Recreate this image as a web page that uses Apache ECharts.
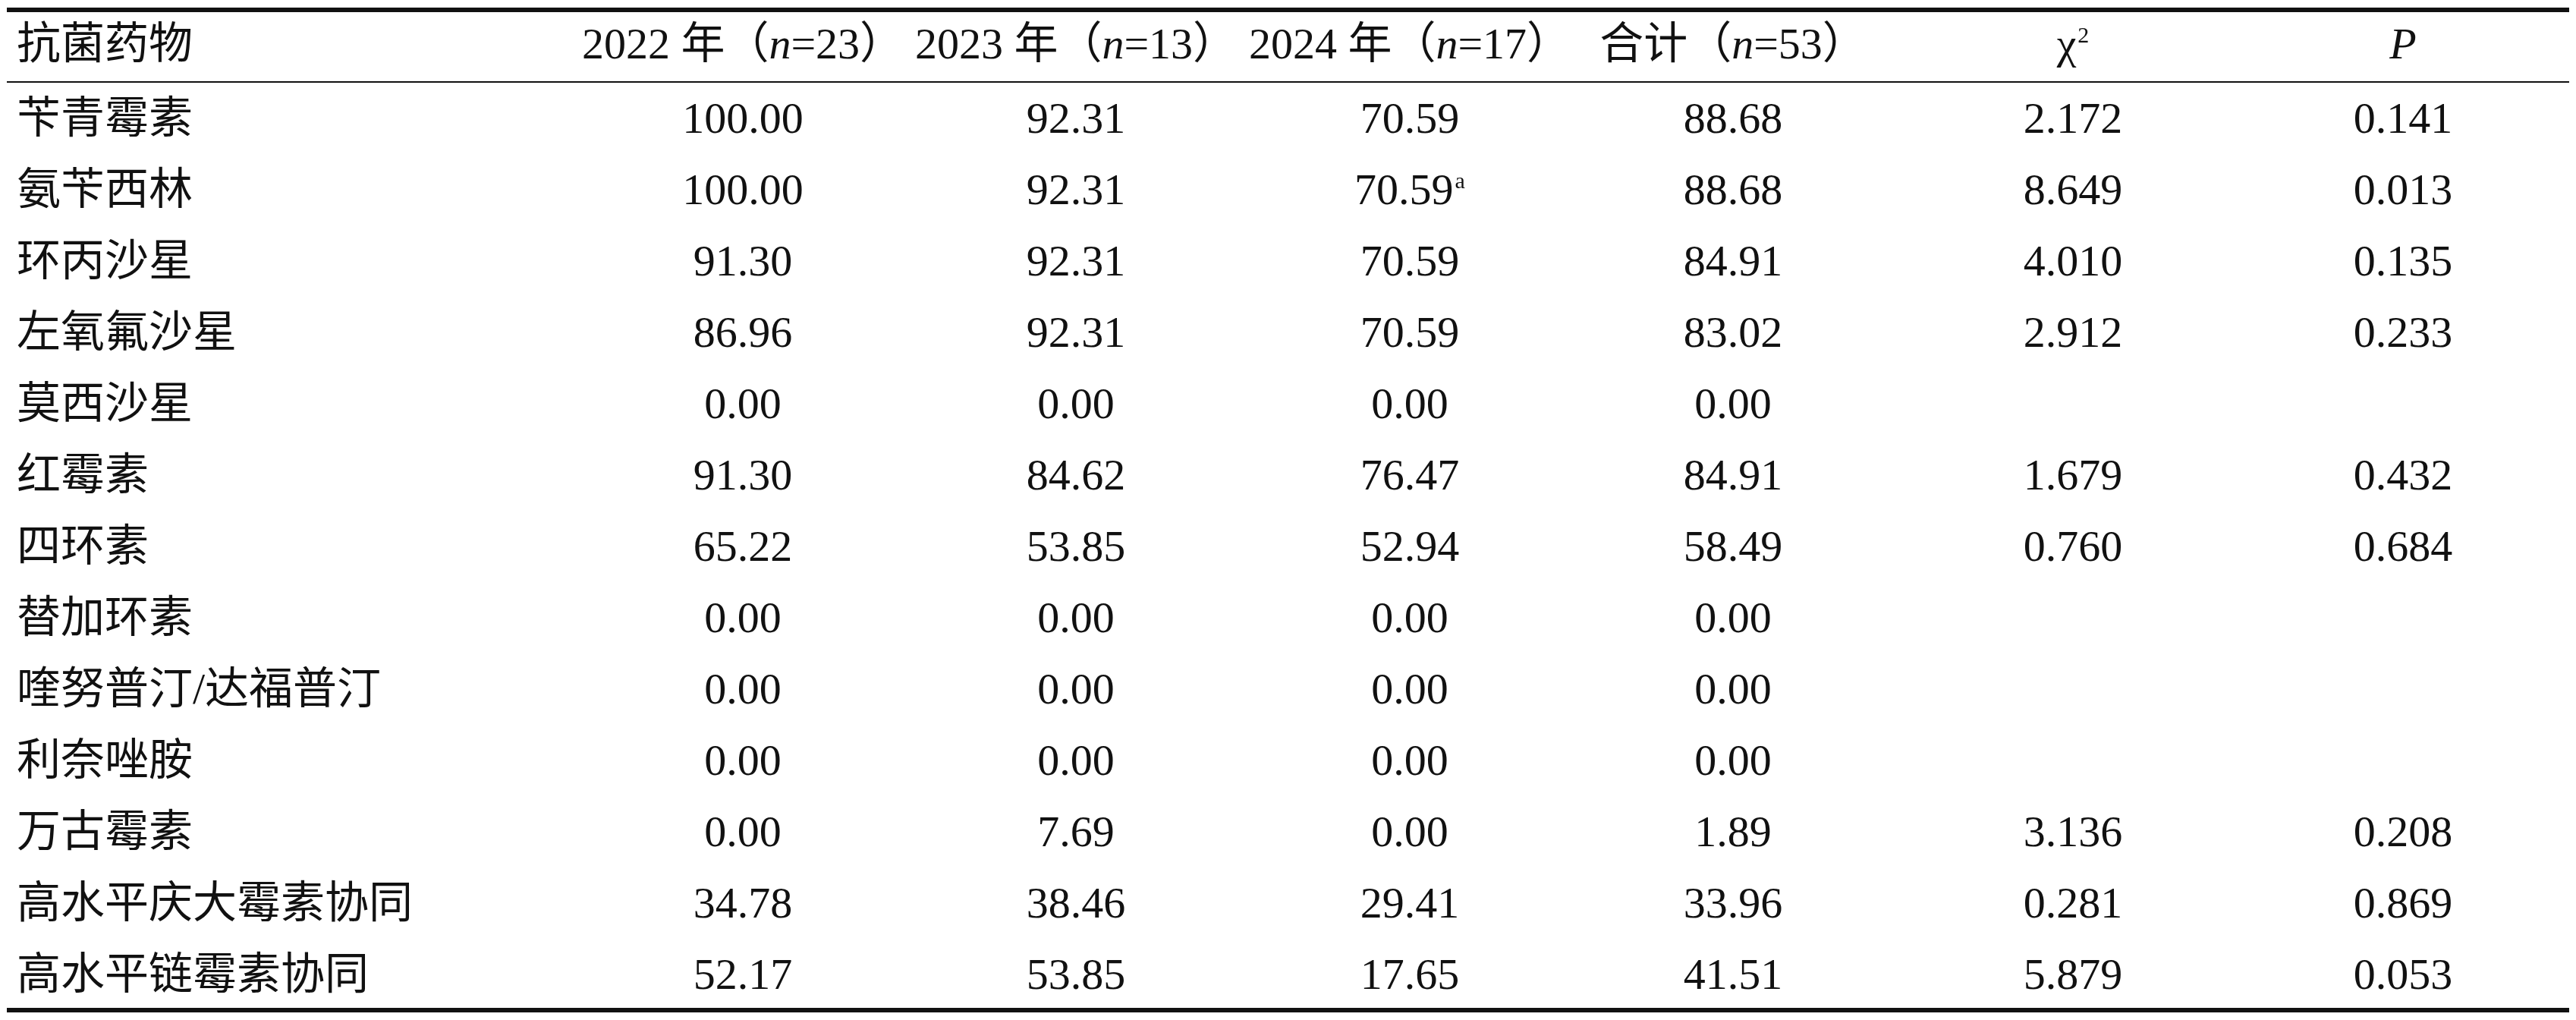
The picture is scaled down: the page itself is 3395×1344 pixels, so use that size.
<!DOCTYPE html>
<html>
<head>
<meta charset="utf-8">
<script src="https://cdn.jsdelivr.net/npm/echarts@6/dist/echarts.min.js"></script>
<style>
html, body { margin: 0; padding: 0; background: #fff; }
#main { width: 3395px; height: 1344px; }
</style>
</head>
<body>
<div id="main"></div>
<script>
var drugs = ['苄青霉素', '氨苄西林', '环丙沙星', '左氧氟沙星', '莫西沙星', '红霉素', '四环素',
	'替加环素', '喹努普汀/达福普汀', '利奈唑胺', '万古霉素', '高水平庆大霉素协同', '高水平链霉素协同'];
var y2022 = ['100.00', '100.00', '91.30', '86.96', '0.00', '91.30', '65.22', '0.00', '0.00', '0.00', '0.00', '34.78', '52.17'];
var y2023 = ['92.31', '92.31', '92.31', '92.31', '0.00', '84.62', '53.85', '0.00', '0.00', '0.00', '7.69', '38.46', '53.85'];
var y2024 = ['70.59', '70.59', '70.59', '70.59', '0.00', '76.47', '52.94', '0.00', '0.00', '0.00', '0.00', '29.41', '17.65'];
var total = ['88.68', '88.68', '84.91', '83.02', '0.00', '84.91', '58.49', '0.00', '0.00', '0.00', '1.89', '33.96', '41.51'];
var chi2 = ['2.172', '8.649', '4.010', '2.912', '', '1.679', '0.760', '', '', '', '3.136', '0.281', '5.879'];
var pval = ['0.141', '0.013', '0.135', '0.233', '', '0.432', '0.684', '', '', '', '0.208', '0.869', '0.053'];
// superscript marks: [column index, row index, mark]
var marks = [[3, 1, 'a']];

var headers = ['抗菌药物', '2022 年（{i|n}=23）', '2023 年（{i|n}=13）', '2024 年（{i|n}=17）',
	'合计（{i|n}=53）', 'χ{sup|2}', '{i|P}'];
var columns = [drugs, y2022, y2023, y2024, total, chi2, pval];

var colX = [22, 979, 1418, 1858, 2284, 2732, 3167];
var headY = 62, rowY0 = 160, rowH = 94;
var left = 9, right = 3386;
var font = '"Liberation Serif", "Noto Sans CJK SC", serif';
var fs = 58;

var rich = {
	i: { fontStyle: 'italic', fontSize: fs, fontFamily: font, fill: '#111' },
	sup: { fontSize: 30, fontFamily: font, fill: '#111', verticalAlign: 'top', padding: [0, 0, 24, 2] }
};

function cellText(x, y, txt, align) {
	return {
		type: 'text', x: x, y: y,
		style: { text: txt, fill: '#111', font: fs + 'px ' + font, align: align, verticalAlign: 'middle', rich: rich }
	};
}

var els = [];
headers.forEach(function (h, c) {
	els.push(cellText(colX[c], headY, h, c === 0 ? 'left' : 'center'));
});
columns.forEach(function (col, c) {
	col.forEach(function (v, r) {
		var txt = v;
		marks.forEach(function (m) {
			if (m[0] === c && m[1] === r) txt = v + '{sup|' + m[2] + '}';
		});
		els.push(cellText(colX[c], rowY0 + r * rowH, txt, c === 0 ? 'left' : 'center'));
	});
});
var lastY = rowY0 + (drugs.length - 1) * rowH;
[[13, 6], [108, 2], [lastY + 43, 6]].forEach(function (l) {
	els.push({ type: 'line', shape: { x1: left, y1: l[0], x2: right, y2: l[0] }, style: { stroke: '#111', lineWidth: l[1] } });
});

var myChart = echarts.init(document.getElementById('main'));
myChart.setOption({ backgroundColor: '#fff', graphic: { elements: els } });
</script>
</body>
</html>
